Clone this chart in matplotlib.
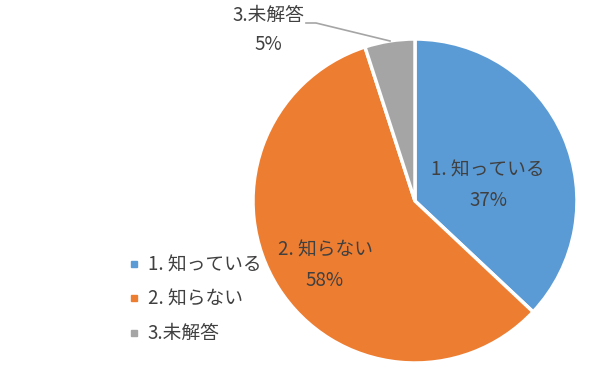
import matplotlib
matplotlib.use('Agg')
import matplotlib.pyplot as plt
from matplotlib.lines import Line2D

plt.rcParams['font.family'] = ['Noto Sans CJK JP', 'DejaVu Sans']

categories = ['1. 知っている', '2. 知らない', '3.未解答']
values = [37, 58, 5]
colors = ['#5B9BD5', '#ED7D31', '#A5A5A5']
text_color = '#404040'

H = 380  # pixel height, used to flip y so coordinates read like the image


def py(y):
    return H - y


fig = plt.figure(figsize=(6, 3.8), dpi=100)
ax = fig.add_axes([0, 0, 1, 1])

cx, cy, r = 415, 201, 162
wedges, _ = ax.pie(values, colors=colors, startangle=90, counterclock=False,
                   center=(cx, py(cy)), radius=r,
                   wedgeprops=dict(edgecolor='white', linewidth=2.5))
ax.set_xlim(0, 600)
ax.set_ylim(0, H)
ax.set_aspect('equal')
ax.axis('off')

# data labels
fs = 13.5
ax.text(488, py(170), categories[0], ha='center', va='center', fontsize=fs, color=text_color)
ax.text(488, py(200), f'{values[0]}%', ha='center', va='center', fontsize=fs, color=text_color)
ax.text(325, py(250), categories[1], ha='center', va='center', fontsize=fs, color=text_color)
ax.text(325, py(280), f'{values[1]}%', ha='center', va='center', fontsize=fs, color=text_color)
ax.text(268, py(15), categories[2], ha='center', va='center', fontsize=fs, color=text_color)
ax.text(268, py(45), f'{values[2]}%', ha='center', va='center', fontsize=fs, color=text_color)
ax.plot([306, 316, 390], [py(23), py(23), py(41)], color='#A5A5A5', lw=1.2)

handles = [Line2D([], [], marker='s', ls='', color=c, markersize=5) for c in colors]
ax.legend(handles, categories, loc='upper left', bbox_to_anchor=(110 / 600, 1 - 238 / H),
          frameon=False, fontsize=13.5, labelcolor=text_color, handletextpad=0.3,
          labelspacing=0.7, handlelength=0.8)

fig.savefig('out.png', dpi=100)
